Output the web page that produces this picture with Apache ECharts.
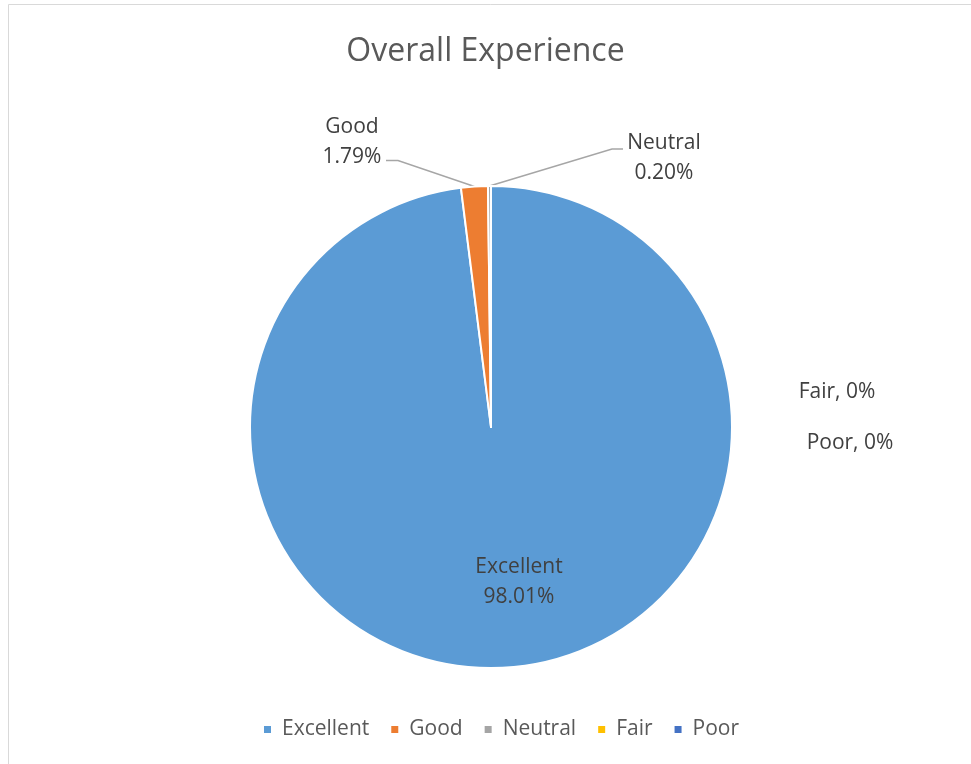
<!DOCTYPE html>
<html>
<head>
<meta charset="utf-8">
<script src="https://cdn.jsdelivr.net/npm/echarts@6/dist/echarts.min.js"></script>
<style>
  html, body { margin: 0; padding: 0; background: #fff; }
  #chart { width: 971px; height: 764px; }
</style>
</head>
<body>
<div id="chart"></div>
<script>
// Overall Experience survey results (share of responses, %)
const categories = ['Excellent', 'Good', 'Neutral', 'Fair', 'Poor'];
const shares = [98.01, 1.79, 0.20, 0, 0];
const colors = ['#5B9BD5', '#ED7D31', '#A5A5A5', '#FFC000', '#4472C4'];

// Label centre for each slice
const labelSpots = [
  { x: 519, y: 582 },
  { x: 352, y: 142 },
  { x: 664, y: 158 },
  { x: 837, y: 392 },
  { x: 850, y: 443 }
];
// Elbow and end of the leader lines (outside labels only)
const leaderTails = {
  1: [[398, 160.5], [386, 160.5]],
  2: [[612, 149], [623, 149]]
};

const FONT = '"Open Sans", "Noto Sans", sans-serif';
const CX = 491, CY = 427, R = 241;

function fmtPct(v) {
  return v === 0 ? '0%' : v.toFixed(2) + '%';
}

// Point on the pie rim at the middle of slice i
function rimMid(i) {
  const total = shares.reduce(function (a, b) { return a + b; }, 0);
  let before = 0;
  for (let k = 0; k < i; k++) before += shares[k];
  const a = (before + shares[i] / 2) / total * 2 * Math.PI;
  return [CX + R * Math.sin(a), CY - R * Math.cos(a)];
}

const chart = echarts.init(document.getElementById('chart'), null, { renderer: 'canvas' });

chart.setOption({
  backgroundColor: '#ffffff',
  animation: false,
  title: {
    text: 'Overall Experience',
    left: 'center',
    top: 31,
    textStyle: { fontFamily: FONT, fontSize: 32, fontWeight: 'normal', color: '#595959' }
  },
  legend: {
    bottom: 24,
    left: 262,
    padding: 0,
    icon: 'rect',
    itemWidth: 9,
    itemHeight: 9,
    itemGap: 20,
    textStyle: { fontFamily: FONT, fontSize: 21, color: '#595959', padding: [0, 0, 0, 5] },
    data: categories
  },
  graphic: [{
    type: 'rect',
    shape: { x: 8.5, y: 4.5, width: 1200, height: 1200 },
    style: { fill: 'none', stroke: '#d9d9d9', lineWidth: 1 },
    silent: true
  }],
  series: [{
    type: 'pie',
    center: [CX, CY],
    radius: R,
    startAngle: 90,
    clockwise: true,
    color: colors,
    itemStyle: { borderColor: '#ffffff', borderWidth: 2 },
    label: {
      show: true,
      fontFamily: FONT,
      fontSize: 21,
      lineHeight: 30,
      color: '#404040',
      align: 'center',
      formatter: function (p) {
        if (p.value === 0) return p.name + ', ' + fmtPct(p.value);
        return p.name + '\n' + fmtPct(p.value);
      }
    },
    labelLine: { show: true, lineStyle: { color: '#A6A6A6', width: 1.5 } },
    labelLayout: function (params) {
      const i = params.dataIndex;
      const s = labelSpots[i];
      const out = { x: s.x, y: s.y, align: 'center', verticalAlign: 'middle' };
      if (leaderTails[i]) {
        out.labelLinePoints = [rimMid(i)].concat(leaderTails[i]);
      }
      return out;
    },
    data: categories.map(function (name, i) {
      const item = { name: name, value: shares[i] };
      if (i === 0 || shares[i] === 0) item.labelLine = { show: false };
      return item;
    })
  }]
});
</script>
</body>
</html>
